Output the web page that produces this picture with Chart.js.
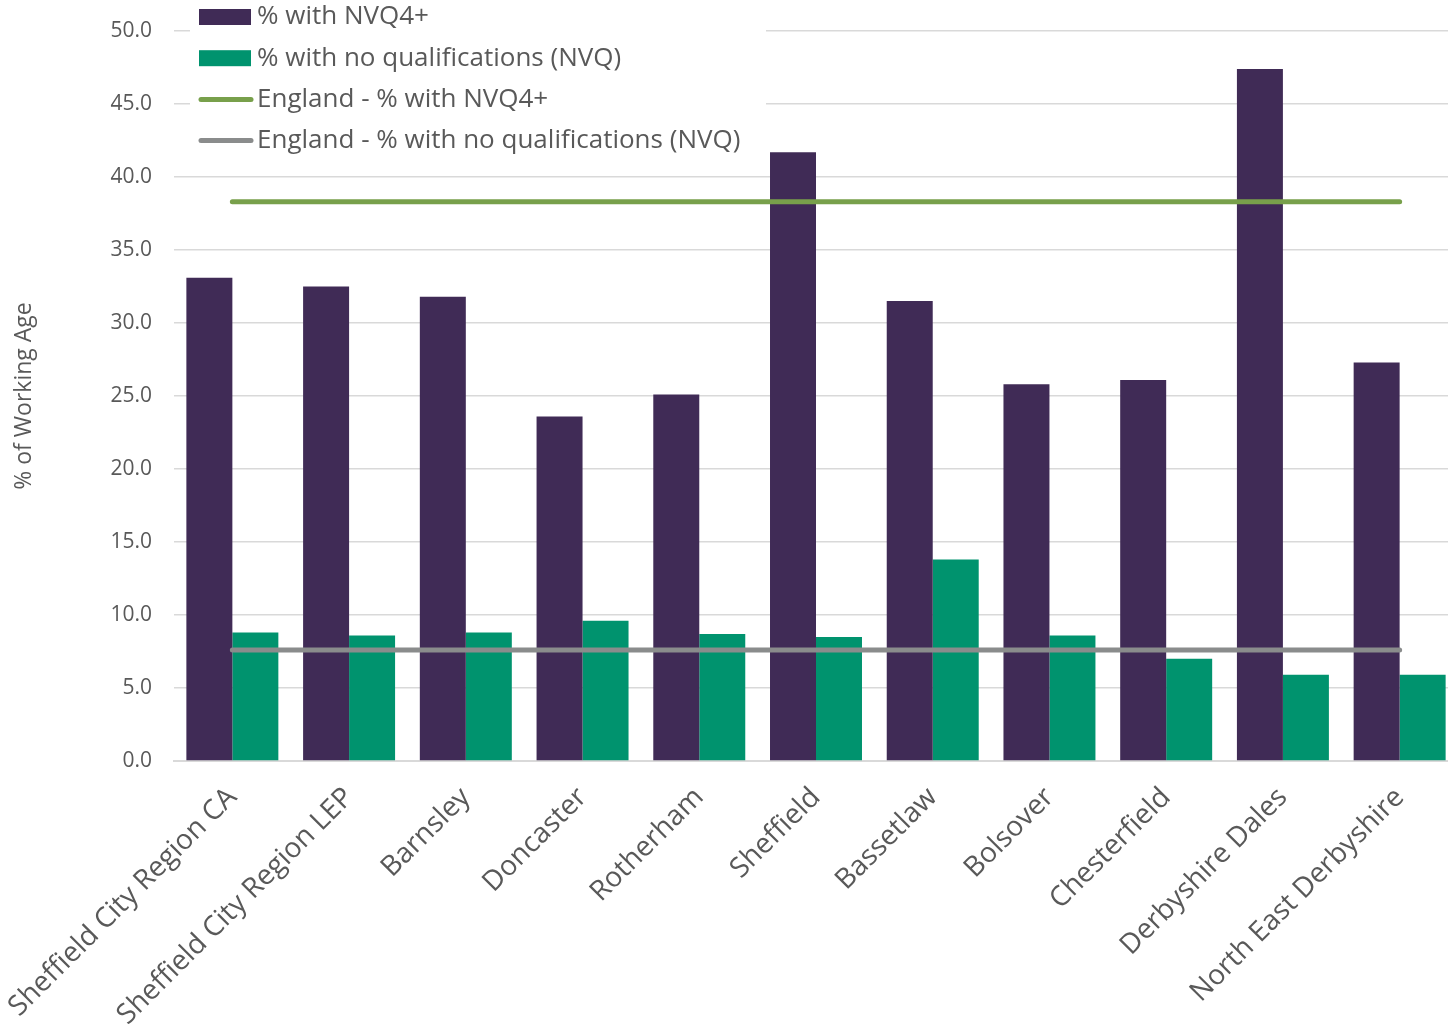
<!DOCTYPE html>
<html>
<head>
<meta charset="utf-8">
<script src="https://cdn.jsdelivr.net/npm/chart.js@4.4.1/dist/chart.umd.min.js"></script>
<style>
  html, body { margin: 0; padding: 0; overflow: hidden; background: #fff; }
</style>
</head>
<body>
<canvas id="qual-chart" width="1460" height="1027"></canvas>
<script>
const areas = [
  "Sheffield City Region CA",
  "Sheffield City Region LEP",
  "Barnsley",
  "Doncaster",
  "Rotherham",
  "Sheffield",
  "Bassetlaw",
  "Bolsover",
  "Chesterfield",
  "Derbyshire Dales",
  "North East Derbyshire",
];
const nvq4 = [33.1, 32.5, 31.8, 23.6, 25.1, 41.7, 31.5, 25.8, 26.1, 47.4, 27.3];
const noQual = [8.8, 8.6, 8.8, 9.6, 8.7, 8.5, 13.8, 8.6, 7.0, 5.9, 5.9];
const englandNvq4 = [38.3, 38.3, 38.3, 38.3, 38.3, 38.3, 38.3, 38.3, 38.3, 38.3, 38.3];
const englandNoQual = [7.6, 7.6, 7.6, 7.6, 7.6, 7.6, 7.6, 7.6, 7.6, 7.6, 7.6];
const yTicks = [0, 5, 10, 15, 20, 25, 30, 35, 40, 45, 50];

const textGrey = "#595959";
const font = "Open Sans";

// legend drawn over the top left of the plot, like the original
const legendBox = {
  id: "legendBox",
  afterDraw(chart) {
    const ctx = chart.ctx;
    ctx.save();
    ctx.fillStyle = "#fff";
    ctx.fillRect(190, 0, 576, 158);
    ctx.font = "26px '" + font + "'";
    ctx.textBaseline = "middle";
    chart.data.datasets.forEach((ds, i) => {
      const y = 17 + i * 41.2;
      if (ds.type === "line") {
        ctx.strokeStyle = ds.borderColor;
        ctx.lineWidth = 5;
        ctx.lineCap = "round";
        ctx.beginPath();
        ctx.moveTo(201, y);
        ctx.lineTo(251, y);
        ctx.stroke();
      } else {
        ctx.fillStyle = ds.backgroundColor;
        ctx.fillRect(199, y - 8, 52, 16);
      }
      ctx.fillStyle = textGrey;
      ctx.fillText(ds.label, 257, y);
    });
    ctx.restore();
  },
};

new Chart(document.getElementById("qual-chart"), {
  data: {
    labels: areas,
    datasets: [
      {
        type: "bar",
        label: "% with NVQ4+",
        data: nvq4,
        backgroundColor: "#402b56",
        categoryPercentage: 0.788,
        barPercentage: 1.0,
        order: 1,
      },
      {
        type: "bar",
        label: "% with no qualifications (NVQ)",
        data: noQual,
        backgroundColor: "#00936e",
        categoryPercentage: 0.788,
        barPercentage: 1.0,
        order: 1,
      },
      {
        type: "line",
        label: "England - % with NVQ4+",
        data: englandNvq4,
        borderColor: "#78a04b",
        borderWidth: 5,
        borderCapStyle: "round",
        pointRadius: 0,
        order: 0,
      },
      {
        type: "line",
        label: "England - % with no qualifications (NVQ)",
        data: englandNoQual,
        borderColor: "#8a8c8c",
        borderWidth: 5,
        borderCapStyle: "round",
        pointRadius: 0,
        order: 0,
      },
    ],
  },
  options: {
    responsive: false,
    animation: false,
    layout: { padding: { top: 31, right: 2, left: 0, bottom: 0 } },
    plugins: {
      legend: { display: false },
      tooltip: { enabled: false },
    },
    scales: {
      x: {
        grid: { display: false },
        border: { display: true, color: "#d9d9d9", width: 2 },
        ticks: {
          autoSkip: false,
          maxRotation: 45,
          minRotation: 45,
          padding: 12,
          color: textGrey,
          font: { family: font, size: 28 },
        },
        afterFit(s) {
          s.height = 266;
          s.paddingLeft = 0;
          s.paddingRight = 0;
        },
      },
      y: {
        min: 0,
        max: 50,
        afterBuildTicks(s) {
          s.ticks = yTicks.map((v) => ({ value: v }));
        },
        grid: { color: "#d9d9d9", lineWidth: 1.5, drawTicks: false },
        border: { display: false },
        ticks: {
          padding: 22,
          color: textGrey,
          font: { family: font, size: 21 },
          callback: (v) => v.toFixed(1),
        },
        title: {
          display: true,
          text: "% of Working Age",
          color: textGrey,
          font: { family: font, size: 23 },
          padding: { top: 11, bottom: 0 },
        },
        afterFit(s) {
          s.width = 174;
          s.paddingTop = 0;
          s.paddingBottom = 0;
        },
      },
    },
  },
  plugins: [legendBox],
});
</script>
</body>
</html>
